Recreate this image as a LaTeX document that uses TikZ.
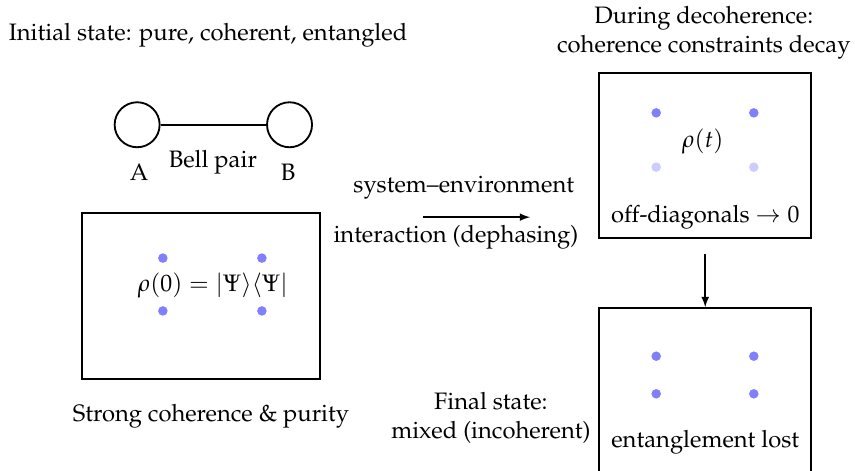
\documentclass[tikz,border=0pt]{standalone}
\usepackage[T1]{fontenc}
\usepackage{mathpazo}
\usepackage{amsmath}
\usetikzlibrary{positioning}

\tikzset{
  panel/.style={draw, line width=1.1pt, minimum width=4.45cm, minimum height=3.47cm},
  qubit/.style={circle, draw, line width=1.1pt, minimum size=0.945cm, inner sep=0pt},
  entry/.style={circle, fill=blue!50, inner sep=0pt, minimum size=0.2cm},
  faded/.style={entry, fill=blue!20},
}

\begin{document}
\begin{tikzpicture}[>=latex, every node/.style={font=\fontsize{14.2}{17}\selectfont}]
                \useasboundingbox (0,0) rectangle (17.955,9.87);
                % initial Bell pair
                \node (init) at (4.37,9.14) {Initial state: pure, coherent, entangled};
                \node[qubit] (A) at (2.88,7.25) {};
                \node[qubit] (B) at (6.08,7.25) {};
                \draw[line width=1.1pt] (A) -- (B);
                \node (labA) at (2.92,6.26) {A};
                \node (labB) at (6.05,6.26) {B};
                \node (bell) at (4.47,6.47) {Bell pair};
                % density matrix at t=0
                \node[panel, minimum width=5cm, minimum height=3.49cm] (rho0) at (4.22,3.65) {};
                \foreach \x in {3.42,5.50}
                    \foreach \y in {3.34,4.45}
                        \node[entry] at (\x,\y) {};
                \node (rho0lab) at (4.47,3.885) {$\rho(0) = |\Psi\rangle\langle\Psi|$};
                \node (strong) at (4.43,1.13) {Strong coherence \& purity};
                % dephasing step
                \coordinate (s) at (8.88,5.31);
                \coordinate (e) at (11.13,5.31);
                \draw[->, line width=1.1pt] (s) -- (e);
                \node[anchor=east] (sysenv) at (12.18,5.94) {system--environment};
                \node[anchor=east] (inter) at (12.27,4.89) {interaction (dephasing)};
                % during decoherence
                \node[align=center] (during) at (14.78,9.18) {During decoherence:\\ coherence constraints decay};
                \node[panel] (rhot) at (14.81,6.60) {};
                \foreach \x in {13.78,15.83} {
                    \node[entry] at (\x,7.50) {};
                    \node[faded] at (\x,6.36) {};
                }
                \node (rhotlab) at (14.76,6.89) {$\rho(t)$};
                \node (offdiag) at (14.81,5.31) {off-diagonals $\to 0$};
                % final mixed state
                \node[panel, minimum height=3.84cm, anchor=north] (rhoinf) at (14.81,3.42) {};
                \foreach \x in {13.78,15.83}
                    \foreach \y in {1.60,2.39}
                        \node[entry] at (\x,\y) {};
                \node (lost) at (14.81,0.59) {entanglement lost};
                \node[align=center] (final) at (10.31,1.09) {Final state:\\ mixed (incoherent)};
                \draw[->, line width=1.1pt] ([yshift=-0.32cm]rhot.south) -- (rhoinf.north);
            \end{tikzpicture}
\end{document}
